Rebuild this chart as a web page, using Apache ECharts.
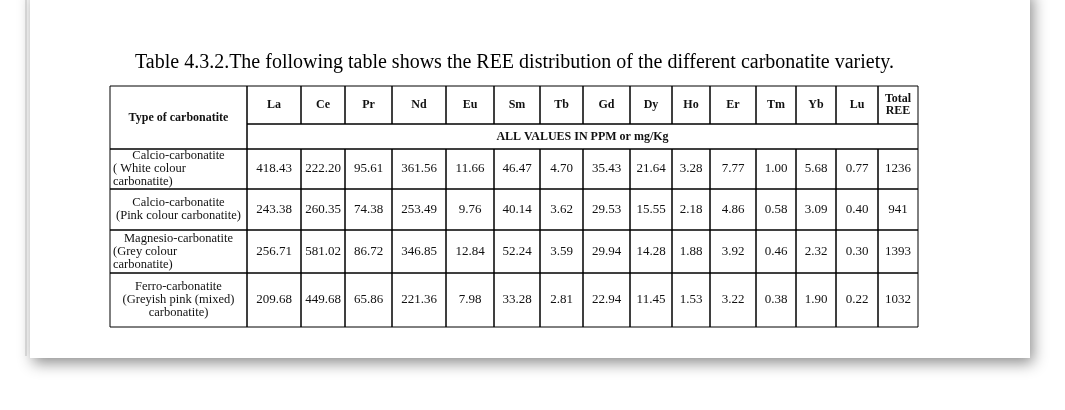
<!DOCTYPE html>
<html><head><meta charset="utf-8">
<script src="https://cdn.jsdelivr.net/npm/echarts@6/dist/echarts.min.js"></script>
<style>html,body{margin:0;padding:0;background:#fff}#c{width:1065px;height:410px}</style>
</head><body><div id="c"></div>
<script>
const title = 'Table 4.3.2.The following table shows the REE distribution of the different carbonatite variety.';
const headers = ['Type of carbonatite','La','Ce','Pr','Nd','Eu','Sm','Tb','Gd','Dy','Ho','Er','Tm','Yb','Lu','Total\nREE'];
const unitsLabel = 'ALL VALUES IN PPM or mg/Kg';
const types = [
  ['Calcio-carbonatite','( White colour','carbonatite)'],
  ['Calcio-carbonatite','(Pink colour carbonatite)'],
  ['Magnesio-carbonatite','(Grey colour','carbonatite)'],
  ['Ferro-carbonatite','(Greyish pink (mixed)','carbonatite)']
];
const typeAlign = [['center','left','left'],['center','center'],['center','left','left'],['center','center','center']];
const white = ['418.43','222.20','95.61','361.56','11.66','46.47','4.70','35.43','21.64','3.28','7.77','1.00','5.68','0.77','1236'];
const pink = ['243.38','260.35','74.38','253.49','9.76','40.14','3.62','29.53','15.55','2.18','4.86','0.58','3.09','0.40','941'];
const grey = ['256.71','581.02','86.72','346.85','12.84','52.24','3.59','29.94','14.28','1.88','3.92','0.46','2.32','0.30','1393'];
const ferro = ['209.68','449.68','65.86','221.36','7.98','33.28','2.81','22.94','11.45','1.53','3.22','0.38','1.90','0.22','1032'];
const rowsVals = [white,pink,grey,ferro];

// layout (page units)
const colX = [110,247,301,345,392,446,494,540,583,630,672,710,756,796,836,878,918];
const rowY = [86,124,149,189,230,273,327];

const cells = [];
headers.forEach((h,i)=>cells.push({c0:i,c1:i+1,r0:0,r1:i===0?2:1,text:h,bold:true,align:'center',type:'h'}));
cells.push({c0:1,c1:16,r0:1,r1:2,text:unitsLabel,bold:true,align:'center',type:'h'});
rowsVals.forEach((vals,r)=>{
  cells.push({c0:0,c1:1,r0:r+2,r1:r+3,lines:types[r],aligns:typeAlign[r],type:'t'});
  vals.forEach((v,i)=>cells.push({c0:i+1,c1:i+2,r0:r+2,r1:r+3,text:v,align:'center',type:'v'}));
});

const font = '"Liberation Serif","DejaVu Serif",serif';
const chart = echarts.init(document.getElementById('c'));
chart.setOption({
  animation:false,
  backgroundColor:'#fff',
  grid:{left:0,right:0,top:0,bottom:0},
  xAxis:{type:'value',min:0,max:1065,show:false},
  yAxis:{type:'value',min:0,max:410,inverse:true,show:false},
  graphic:[
    {type:'rect',shape:{x:30,y:-10,width:1000,height:368},style:{fill:'#fff',shadowBlur:14,shadowColor:'rgba(0,0,0,0.45)',shadowOffsetX:3,shadowOffsetY:5},z:-10},
    {type:'line',shape:{x1:26,y1:0,x2:26,y2:356},style:{stroke:'#bbb',lineWidth:1},z:-5},
    {type:'text',left:135,top:53,style:{text:title,font:'20px '+font,fill:'#000'}}
  ],
  series:[{
    type:'custom',
    coordinateSystem:'cartesian2d',
    data:cells.map((c,i)=>[i]),
    renderItem:function(params,api){
      const c = cells[api.value(0)];
      const p0 = api.coord([colX[c.c0],rowY[c.r0]]);
      const p1 = api.coord([colX[c.c1],rowY[c.r1]]);
      const w = p1[0]-p0[0], h = p1[1]-p0[1];
      const ch = [{type:'rect',shape:{x:p0[0],y:p0[1],width:w,height:h},style:{fill:'none',stroke:'#000',lineWidth:1}}];
      if(c.type==='t'){
        const lh = 13, n = c.lines.length, y0 = p0[1]+h/2-(n*lh)/2+lh/2;
        c.lines.forEach((ln,k)=>{
          const al = c.aligns[k];
          ch.push({type:'text',style:{text:ln,x:al==='left'?p0[0]+3:p0[0]+w/2,y:y0+k*lh,align:al,verticalAlign:'middle',font:'12.5px '+font,fill:'#111'}});
        });
      } else {
        const fs = c.type==='h' ? 'bold 12px ' : '13px ';
        ch.push({type:'text',style:{text:c.text,x:p0[0]+w/2,y:p0[1]+h/2,align:'center',verticalAlign:'middle',font:fs+font,fill:'#111',lineHeight:12}});
      }
      return {type:'group',children:ch};
    }
  }]
});
</script></body></html>
